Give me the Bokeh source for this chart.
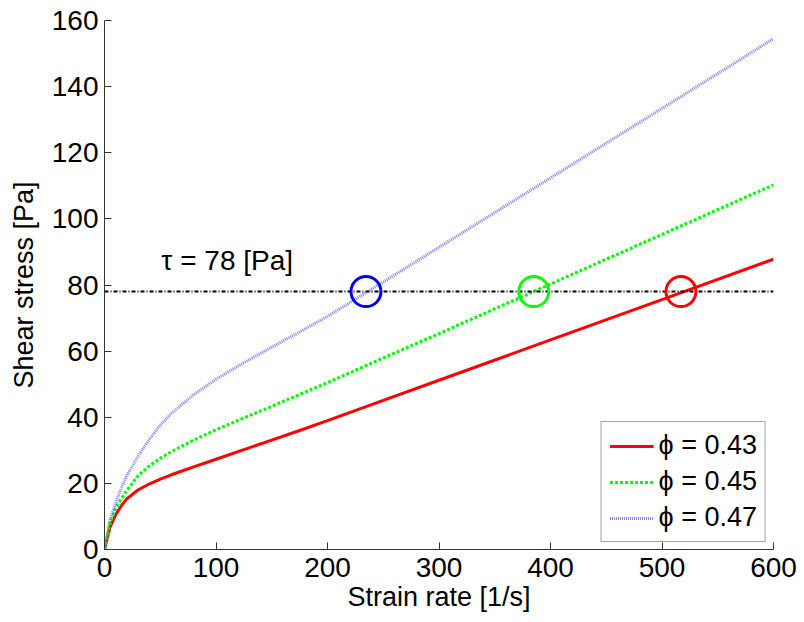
from bokeh.plotting import figure
from bokeh.models import Range1d, FixedTicker, Legend, LegendItem
from bokeh.core.properties import value
from bokeh.embed import file_html
from bokeh.resources import INLINE

# ---- data ----
strain_rate = [0, 5, 10, 15, 20, 30, 40, 50, 60, 80, 100, 125, 150, 175, 200, 250, 300, 400, 500, 600]
stress_043 = [0, 6.8, 10.5, 13.2, 15.3, 18.0, 19.8, 21.3, 22.6, 25.0, 27.3, 30.2, 33.1, 36.0, 39.0, 45.1, 51.2, 63.4, 75.6, 87.8]
stress_045 = [0, 8.0, 12.5, 15.3, 17.8, 22.3, 25.2, 27.6, 29.6, 33.1, 36.2, 39.8, 43.3, 46.9, 50.5, 57.9, 65.3, 80.3, 95.3, 110.3]
stress_047 = [0, 9.0, 14.0, 18.5, 22.3, 28.2, 33.2, 37.6, 41.2, 46.8, 51.5, 56.5, 61.2, 65.8, 70.5, 80.9, 91.4, 112.4, 133.4, 154.5]
tau_level = 78
tau_line_x = [0, 600]
cross_rates = [517, 385, 234.5]
cross_colors = ["#ff0000", "#00ff00", "#0000ff"]
series_labels = ["\u03d5 = 0.43", "\u03d5 = 0.45", "\u03d5 = 0.47"]
tau_label = "\u03c4 = 78 [Pa]"
x_ticks = [0, 100, 200, 300, 400, 500, 600]
y_ticks = [0, 20, 40, 60, 80, 100, 120, 140, 160]

FONT = "Liberation Sans"

p = figure(width=804, height=622, output_backend="svg", toolbar_location=None,
           x_range=Range1d(0, 600), y_range=Range1d(0, 160),
           min_border_left=104, min_border_right=31, min_border_top=20, min_border_bottom=73)
p.outline_line_color = None
p.grid.visible = False
p.background_fill_color = "white"
p.border_fill_color = "white"

for ax, ticks in ((p.xaxis, x_ticks), (p.yaxis, y_ticks)):
    ax.ticker = FixedTicker(ticks=ticks)
    ax.major_tick_in = 7
    ax.major_tick_out = 0
    ax.minor_tick_line_color = None
    ax.axis_line_color = "#333333"
    ax.major_tick_line_color = "#333333"
    ax.major_label_text_font = FONT
    ax.major_label_text_font_size = "28px"
    ax.major_label_text_color = "black"
    ax.axis_label_text_font = FONT
    ax.axis_label_text_font_size = "27px"
    ax.axis_label_text_font_style = "normal"
    ax.axis_label_text_color = "black"

p.xaxis.axis_label = "Strain rate [1/s]"
p.yaxis.axis_label = "Shear stress [Pa]"
p.xaxis.major_label_standoff = 8
p.yaxis.major_label_standoff = 6
p.xaxis.axis_label_standoff = 2
p.yaxis.axis_label_standoff = 10

r1 = p.line(strain_rate, stress_043, line_color="#ff0000", line_width=3)
r2 = p.line(strain_rate, stress_045, line_color="#00ff00", line_width=3, line_dash="3 2")
r3 = p.line(strain_rate, stress_047, line_color="#6a6aff", line_width=3, line_dash="1 1", line_alpha=0.85)

p.line(tau_line_x, [tau_level, tau_level], line_color="black", line_width=2, line_dash="4 2 1 2")

p.scatter(cross_rates, [tau_level] * len(cross_rates), marker="circle", size=30,
          fill_color=None, line_color=cross_colors, line_width=3)

p.text(x=[51], y=[87.3], text=[tau_label], text_font=value(FONT), text_font_size="28px",
       text_baseline="alphabetic", text_align="left", text_color="black")

legend = Legend(items=[LegendItem(label=series_labels[0], renderers=[r1]),
                       LegendItem(label=series_labels[1], renderers=[r2]),
                       LegendItem(label=series_labels[2], renderers=[r3])],
                location="bottom_right")
legend.margin = 7
legend.padding = 8
legend.spacing = 5
legend.glyph_width = 44
legend.label_standoff = 5
legend.label_height = 30
legend.label_text_font = FONT
legend.label_text_font_size = "27px"
legend.label_text_color = "black"
legend.border_line_color = "#444444"
legend.border_line_width = 1
legend.background_fill_alpha = 1
p.add_layout(legend, "center")

open("out.html", "w").write(file_html(p, INLINE))
